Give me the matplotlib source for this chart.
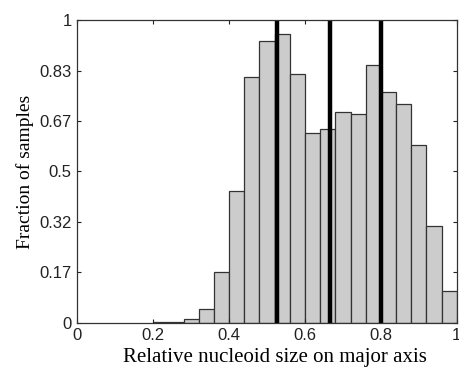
import matplotlib
matplotlib.use("Agg")
import matplotlib.pyplot as plt
import numpy as np

# histogram bins (left edges) and heights
bin_edges = [0.20, 0.24, 0.28, 0.32, 0.36, 0.40, 0.44, 0.48, 0.52, 0.56,
             0.60, 0.64, 0.68, 0.72, 0.76, 0.80, 0.84, 0.88, 0.92, 0.96, 1.00]
fractions = [0.003, 0.003, 0.011, 0.044, 0.167, 0.436, 0.811, 0.930, 0.955, 0.822,
             0.626, 0.639, 0.696, 0.691, 0.852, 0.762, 0.724, 0.587, 0.320, 0.105]
marker_lines = [0.525, 0.667, 0.80]

ytick_pos = [0, 1/6, 2/6, 3/6, 4/6, 5/6, 1]
ytick_labels = ["0", "0.17", "0.32", "0.5", "0.67", "0.83", "1"]

fig = plt.figure(figsize=(4.6, 3.73), dpi=100)
ax = fig.add_axes([0.168, 0.135, 0.825, 0.811])

ax.hist(bin_edges[:-1], bins=bin_edges, weights=fractions,
        color="#cccccc", edgecolor="#333333", linewidth=0.9)

for x in marker_lines:
    ax.axvline(x, color="black", linewidth=3.2)

ax.set_xlim(0, 1)
ax.set_ylim(0, 1)
ax.set_xticks([0, 0.2, 0.4, 0.6, 0.8, 1])
ax.set_xticklabels(["0", "0.2", "0.4", "0.6", "0.8", "1"])
ax.set_yticks(ytick_pos)
ax.set_yticklabels(ytick_labels)

ax.tick_params(direction="in", top=True, right=True, length=3, width=0.8,
               labelsize=12, colors="#222222", pad=4)
for lab in ax.get_xticklabels() + ax.get_yticklabels():
    lab.set_family("Liberation Sans")
for s in ax.spines.values():
    s.set_linewidth(0.9)
    s.set_color("#333333")

ax.set_xlabel("Relative nucleoid size on major axis", family="Liberation Serif",
              fontsize=15, labelpad=5)
ax.xaxis.set_label_coords(0.52, -0.085, transform=ax.transAxes)
ax.xaxis.label.set_va("top")
ax.set_ylabel("Fraction of samples", family="Liberation Serif",
              fontsize=14, labelpad=4)

fig.savefig("out.png", dpi=100)
